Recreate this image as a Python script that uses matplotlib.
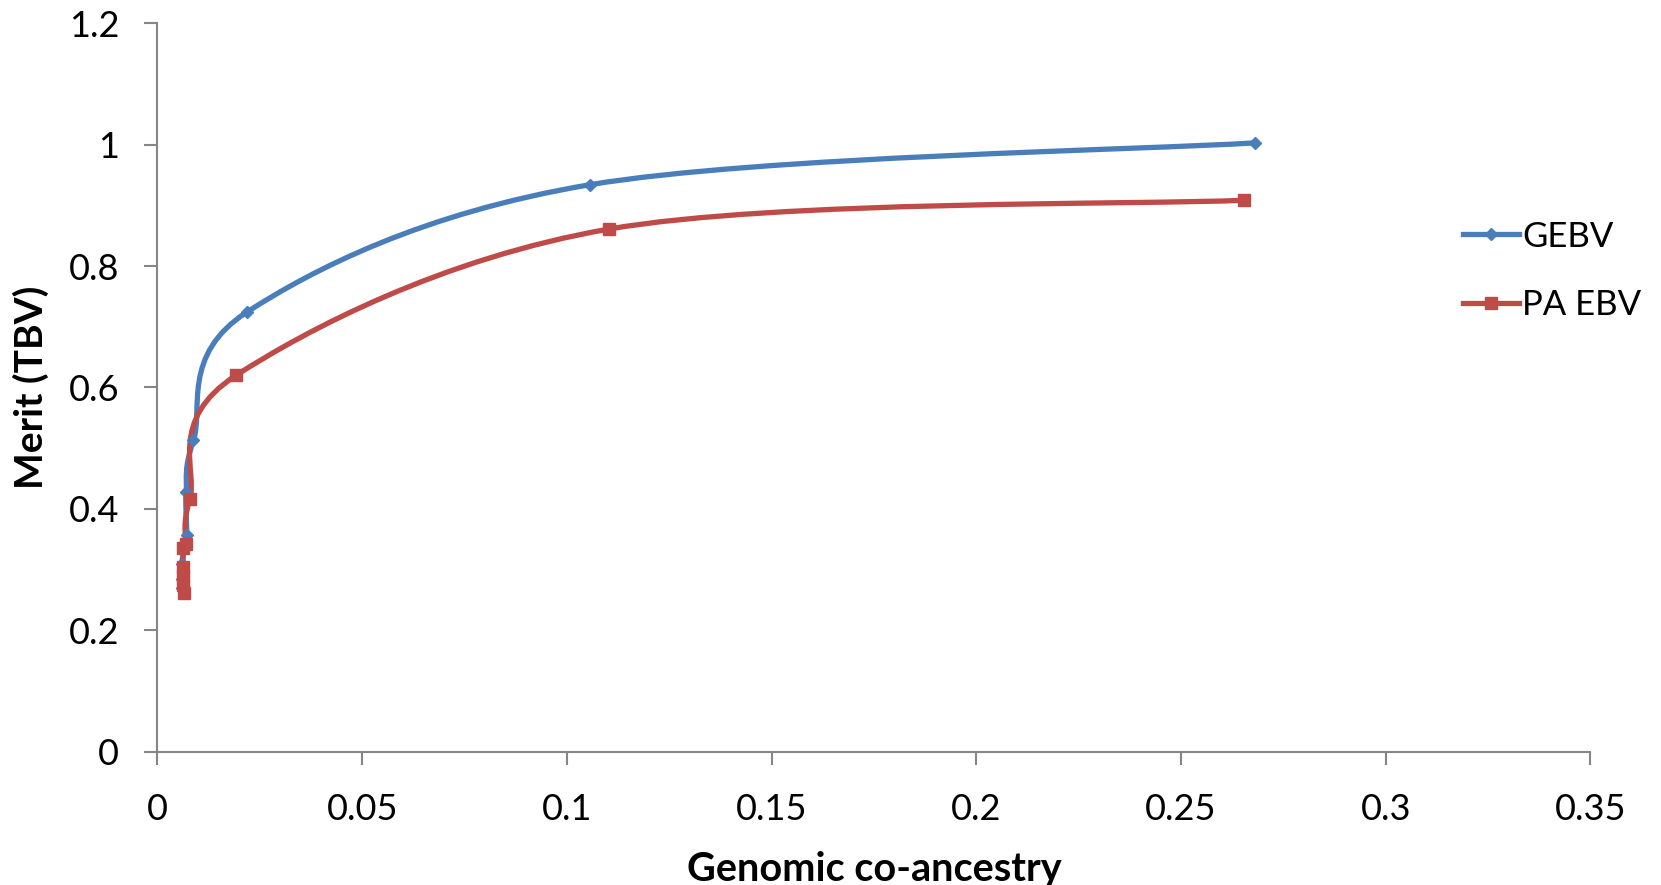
import matplotlib
matplotlib.use('Agg')

import matplotlib.pyplot as plt
from matplotlib.path import Path
from matplotlib.patches import PathPatch
from matplotlib.lines import Line2D

plt.rcParams.update({
    'font.family': ['Lato', 'DejaVu Sans'],
    'font.size': 26,
})

# data (Excel scatter, smoothed lines)
gebv_x = [0.268, 0.1056, 0.0218, 0.0088, 0.0070, 0.0071, 0.0059, 0.0060, 0.0061]
gebv_y = [1.003, 0.934, 0.724, 0.513, 0.428, 0.357, 0.310, 0.285, 0.270]
pa_x = [0.2653, 0.1103, 0.0192, 0.0079, 0.0069, 0.0063, 0.0063, 0.0062, 0.0063, 0.0065]
pa_y = [0.9085, 0.861, 0.620, 0.416, 0.343, 0.335, 0.305, 0.290, 0.275, 0.261]

x_ticks = [0, 0.05, 0.1, 0.15, 0.2, 0.25, 0.3, 0.35]
y_ticks = [0, 0.2, 0.4, 0.6, 0.8, 1.0, 1.2]

BLUE = '#4A7EBB'
RED = '#BE4B48'
AXC = '#868686'


def smooth_path(xs, ys):
    # Excel-style smoothing: cubic Bezier through the points (Catmull-Rom)
    pts = list(zip(xs, ys))
    n = len(pts)
    verts = [pts[0]]
    codes = [Path.MOVETO]
    for i in range(n - 1):
        p0 = pts[i - 1] if i > 0 else pts[i]
        p1 = pts[i]
        p2 = pts[i + 1]
        p3 = pts[i + 2] if i + 2 < n else pts[i + 1]
        c1 = (p1[0] + (p2[0] - p0[0]) / 6, p1[1] + (p2[1] - p0[1]) / 6)
        c2 = (p2[0] - (p3[0] - p1[0]) / 6, p2[1] - (p3[1] - p1[1]) / 6)
        verts += [c1, c2, p2]
        codes += [Path.CURVE4] * 3
    return Path(verts, codes)


fig = plt.figure(figsize=(16.61, 8.85), dpi=100, facecolor='white')
ax = fig.add_axes([0.0948, 0.1506, 0.8627, 0.8231])

for xs, ys, col, mk, ms in [(gebv_x, gebv_y, BLUE, 'D', 6),
                            (pa_x, pa_y, RED, 's', 8)]:
    ax.add_patch(PathPatch(smooth_path(xs, ys), facecolor='none',
                           edgecolor=col, lw=3.8, capstyle='round', zorder=3))
    ax.plot(xs, ys, linestyle='none', marker=mk, markersize=ms,
            color=col, zorder=4)

ax.set_xlim(0, 0.35)
ax.set_ylim(0, 1.2)
ax.set_xticks(x_ticks)
ax.set_yticks(y_ticks)
ax.set_xticklabels(['0', '0.05', '0.1', '0.15', '0.2', '0.25', '0.3', '0.35'])
ax.set_yticklabels(['0', '0.2', '0.4', '0.6', '0.8', '1', '1.2'])

for s in ['top', 'right']:
    ax.spines[s].set_visible(False)
for s in ['left', 'bottom']:
    ax.spines[s].set_color(AXC)
    ax.spines[s].set_linewidth(1.5)
ax.tick_params(direction='out', length=9.5, width=1.5, color=AXC)
ax.tick_params(axis='x', pad=20)
ax.tick_params(axis='y', pad=18)

ax.set_xlabel('Genomic co-ancestry', fontweight='bold', fontsize=28.5, labelpad=18)
ax.set_ylabel('Merit (TBV)', fontweight='bold', fontsize=28, labelpad=14)

handles = [Line2D([], [], color=BLUE, lw=3.8, marker='D', markersize=6),
           Line2D([], [], color=RED, lw=3.8, marker='s', markersize=8)]
fig.legend(handles, ['GEBV', 'PA EBV'], loc='upper left',
           bbox_to_anchor=(0.862, 0.786), frameon=False, fontsize=25,
           handlelength=1.6, handletextpad=0.1, labelspacing=1.05)

fig.savefig('out.png', dpi=100, facecolor='white')
